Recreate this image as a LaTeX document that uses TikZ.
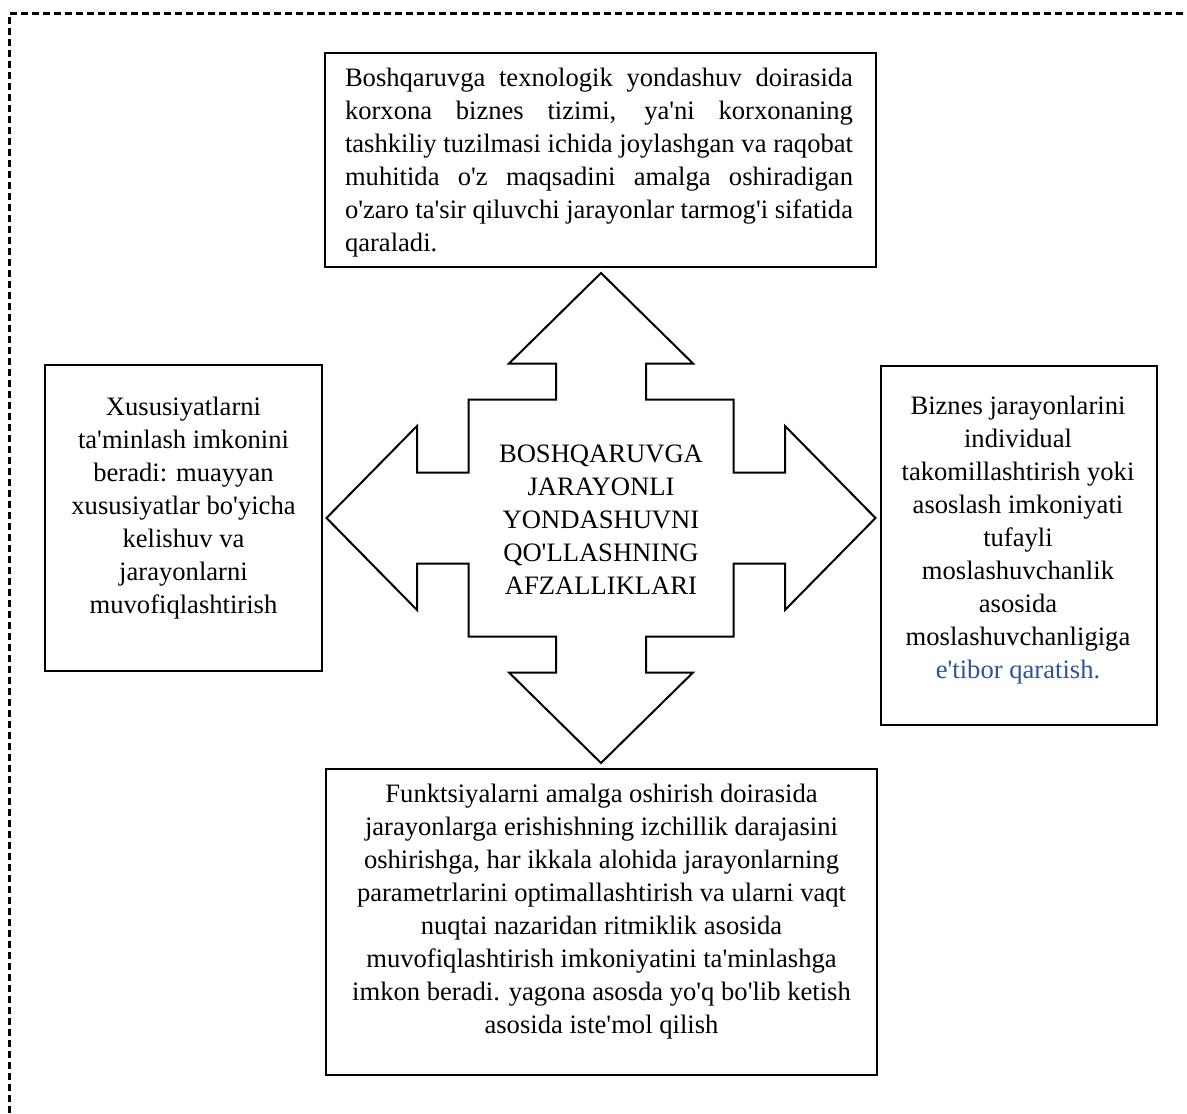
\documentclass[tikz,border=0pt]{standalone}
\usepackage{fontspec}
\setmainfont{Liberation Serif}[Ligatures=TeXOff]
\definecolor{linkblue}{RGB}{47,84,150}
\begin{document}
\begin{tikzpicture}[x=0.5pt,y=-0.5pt,
  box/.style={draw=black,line width=1pt,inner sep=0pt,fill=white},
  txt/.style={align=center,inner sep=0pt,font=\fontsize{13.3pt}{16.5pt}\selectfont},
  frame/.style={line width=1.2pt,dash pattern=on 3.5pt off 2pt},
  bigarrow/.style={draw=black,line width=1pt,line join=miter,fill=white}]
\useasboundingbox (0,0) rectangle (1187,1113);

% dashed frame (open at right and bottom)
\draw[frame] (9.5,1113) -- (9.5,13.5) -- (1187,13.5);

% boxes
\node[box,minimum width=275.5pt,minimum height=107pt] (topbox) at (600.5,160) {};
\node[box,minimum width=138.5pt,minimum height=153pt] (leftbox) at (183.5,518) {};
\node[box,minimum width=138pt,minimum height=179.5pt] (rightbox) at (1019,545.5) {};
\node[box,minimum width=275.5pt,minimum height=153pt] (bottombox) at (601.5,922) {};

% four-way arrow
\draw[bigarrow] (601,273) -- (693,363.5) -- (646,363.5) -- (646,399.5) -- (733.5,399.5)
  -- (733.5,472.5) -- (785,472.5) -- (785,426) -- (875.5,518) -- (785,610) -- (785,563.5)
  -- (733.5,563.5) -- (733.5,636.5) -- (646,636.5) -- (646,672.5) -- (693,672.5)
  -- (601,763) -- (509,672.5) -- (556,672.5) -- (556,636.5) -- (468.5,636.5)
  -- (468.5,563.5) -- (417,563.5) -- (417,610) -- (326.5,518) -- (417,426)
  -- (417,472.5) -- (468.5,472.5) -- (468.5,399.5) -- (556,399.5) -- (556,363.5)
  -- (509,363.5) -- cycle;

% texts
\node[txt,align=left] (toptext) at (599,163) {%
\makebox[254pt][s]{Boshqaruvga texnologik yondashuv doirasida}\\
\makebox[254pt][s]{korxona biznes tizimi, ya'ni korxonaning}\\
\makebox[254pt][s]{tashkiliy tuzilmasi ichida joylashgan va raqobat}\\
\makebox[254pt][s]{muhitida o'z maqsadini amalga oshiradigan}\\
\makebox[254pt][s]{o'zaro ta'sir qiluvchi jarayonlar tarmog'i sifatida}\\
\makebox[254pt][l]{qaraladi.}};

\node[txt] (centertext) at (601,520) {BOSHQARUVGA\\JARAYONLI\\YONDASHUVNI\\QO'LLASHNING\\AFZALLIKLARI};

\node[txt] (lefttext) at (183.5,508) {Xususiyatlarni\\ta'minlash imkonini\\beradi: muayyan\\xususiyatlar bo'yicha\\kelishuv va\\jarayonlarni\\muvofiqlashtirish};

\node[txt] (righttext) at (1018,540.5) {Biznes jarayonlarini\\individual\\takomillashtirish yoki\\asoslash imkoniyati\\tufayli\\moslashuvchanlik\\asosida\\moslashuvchanligiga\\{\color{linkblue}e'tibor qaratish.}};

\node[txt] (bottomtext) at (601.5,912) {Funktsiyalarni amalga oshirish doirasida\\jarayonlarga erishishning izchillik darajasini\\oshirishga, har ikkala alohida jarayonlarning\\parametrlarini optimallashtirish va ularni vaqt\\nuqtai nazaridan ritmiklik asosida\\muvofiqlashtirish imkoniyatini ta'minlashga\\imkon beradi. yagona asosda yo'q bo'lib ketish\\asosida iste'mol qilish};
\end{tikzpicture}
\end{document}
